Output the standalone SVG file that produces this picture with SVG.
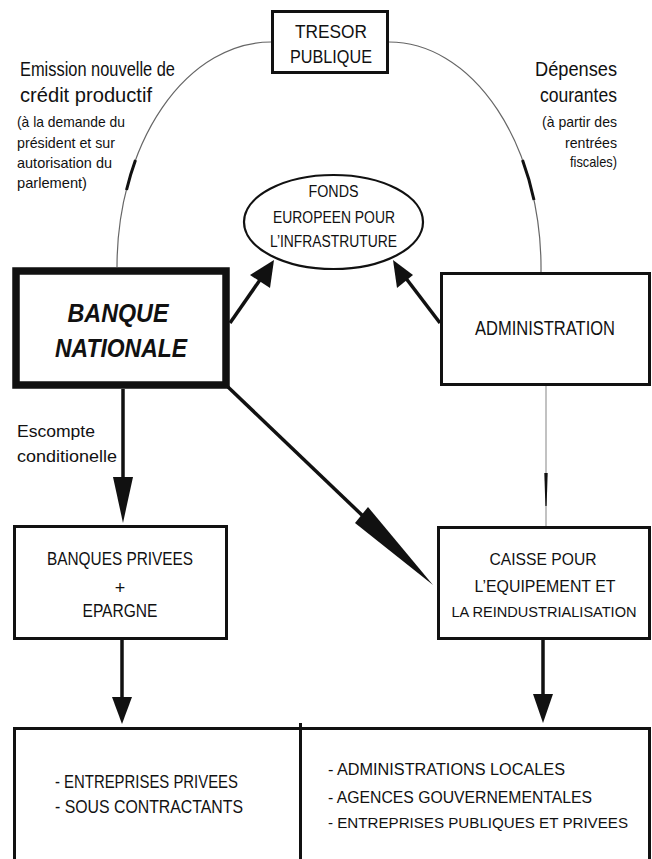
<svg xmlns="http://www.w3.org/2000/svg" width="652" height="859" viewBox="0 0 652 859">
<style>
text{font-family:"Liberation Sans",Arial,sans-serif;fill:#111;}
.box{fill:#fff;stroke:#111;stroke-width:3;}
.thick{fill:#fff;stroke:#111;stroke-width:7.5;}
.thin{fill:none;stroke:#666;stroke-width:1.2;}
.mark{fill:none;stroke:#111;stroke-width:3;}
.ln{fill:none;stroke:#111;stroke-width:3.5;}
.head{fill:#111;stroke:none;}
.c{text-anchor:middle;}
</style>
<rect width="652" height="859" fill="#fff"/>

<g id="connectors">
  <path class="thin" d="M271,42 A154,225 0 0 0 117,267"/>
  <path class="mark" d="M135.5,160 A154,225 0 0 0 126.5,190"/>
  <path class="thin" d="M389,42 A152,226 0 0 1 541,272"/>
  <path class="mark" d="M522.5,160 A152,226 0 0 1 534,200"/>
  <line x1="546" y1="386" x2="546" y2="526" stroke="#999" stroke-width="1.2"/>
  <polygon class="head" points="544.3,473 547.7,473 546.6,506 545.4,506"/>
  <line class="ln" x1="230" y1="323" x2="262" y2="277"/>
  <polygon class="head" points="274,260 250,275 270,288"/>
  <line class="ln" x1="440" y1="323" x2="405" y2="277"/>
  <polygon class="head" points="393,260 413,275 397,288"/>
  <line class="ln" x1="228" y1="387" x2="365" y2="518" stroke-width="3"/>
  <polygon class="head" points="433,585 355,523 368,507"/>
  <line class="ln" x1="123" y1="389" x2="123" y2="480" stroke-width="4"/>
  <polygon class="head" points="113,477 133,477 123,523"/>
  <line class="ln" x1="122" y1="640" x2="122" y2="700" stroke-width="4"/>
  <polygon class="head" points="112,697 132,697 122,724"/>
  <line class="ln" x1="543" y1="640" x2="543" y2="697" stroke-width="4"/>
  <polygon class="head" points="533,694 553,694 543,723"/>
</g>

<g id="tresor">
  <rect class="box" x="272.5" y="11.5" width="115" height="61"/>
  <text class="c" x="331" y="38" font-size="18" textLength="72" lengthAdjust="spacingAndGlyphs">TRESOR</text>
  <text class="c" x="331" y="63" font-size="18" textLength="82" lengthAdjust="spacingAndGlyphs">PUBLIQUE</text>
</g>

<g id="label-emission">
  <text x="20" y="76" font-size="20" textLength="155" lengthAdjust="spacingAndGlyphs">Emission nouvelle de</text>
  <text x="20" y="102" font-size="20" textLength="132" lengthAdjust="spacingAndGlyphs">crédit productif</text>
  <text x="17" y="127" font-size="15" textLength="108" lengthAdjust="spacingAndGlyphs">(à la demande du</text>
  <text x="17" y="148" font-size="15" textLength="98" lengthAdjust="spacingAndGlyphs">président et sur</text>
  <text x="17" y="168" font-size="15" textLength="95" lengthAdjust="spacingAndGlyphs">autorisation du</text>
  <text x="17" y="188" font-size="15" textLength="70" lengthAdjust="spacingAndGlyphs">parlement)</text>
</g>

<g id="label-depenses">
  <text x="535" y="76" font-size="20" textLength="82" lengthAdjust="spacingAndGlyphs">Dépenses</text>
  <text x="540" y="102" font-size="20" textLength="77" lengthAdjust="spacingAndGlyphs">courantes</text>
  <text x="542" y="127" font-size="15" textLength="75" lengthAdjust="spacingAndGlyphs">(à partir des</text>
  <text x="565" y="148" font-size="15" textLength="52" lengthAdjust="spacingAndGlyphs">rentrées</text>
  <text x="570" y="167" font-size="15" textLength="47" lengthAdjust="spacingAndGlyphs">fiscales)</text>
</g>

<g id="fonds">
  <ellipse cx="333.5" cy="222" rx="89.5" ry="47" fill="#fff" stroke="#111" stroke-width="2.2"/>
  <text class="c" x="333.5" y="197" font-size="16" textLength="50" lengthAdjust="spacingAndGlyphs">FONDS</text>
  <text class="c" x="334" y="223" font-size="16" textLength="122" lengthAdjust="spacingAndGlyphs">EUROPEEN POUR</text>
  <text class="c" x="333.5" y="247" font-size="16" textLength="127" lengthAdjust="spacingAndGlyphs">L’INFRASTRUTURE</text>
</g>

<g id="banque-nationale">
  <rect class="thick" x="16" y="271" width="210" height="114"/>
  <text class="c" x="118" y="322" font-size="26" font-weight="bold" font-style="italic" textLength="101" lengthAdjust="spacingAndGlyphs">BANQUE</text>
  <text class="c" x="121" y="357" font-size="26" font-weight="bold" font-style="italic" textLength="132" lengthAdjust="spacingAndGlyphs">NATIONALE</text>
</g>

<g id="administration">
  <rect class="box" x="441.5" y="273.5" width="208" height="111"/>
  <text class="c" x="545" y="335" font-size="20" textLength="140" lengthAdjust="spacingAndGlyphs">ADMINISTRATION</text>
</g>

<g id="label-escompte">
  <text x="17" y="437" font-size="17" textLength="78" lengthAdjust="spacingAndGlyphs">Escompte</text>
  <text x="17" y="462" font-size="17" textLength="100" lengthAdjust="spacingAndGlyphs">conditionelle</text>
</g>

<g id="banques-privees">
  <rect class="box" x="14.5" y="526.5" width="212" height="112"/>
  <text class="c" x="120" y="565" font-size="18" textLength="146" lengthAdjust="spacingAndGlyphs">BANQUES PRIVEES</text>
  <text class="c" x="120" y="594" font-size="18">+</text>
  <text class="c" x="120" y="617" font-size="18" textLength="75" lengthAdjust="spacingAndGlyphs">EPARGNE</text>
</g>

<g id="caisse">
  <rect class="box" x="438.5" y="527.5" width="211" height="111"/>
  <text class="c" x="543" y="565" font-size="16.5" textLength="107" lengthAdjust="spacingAndGlyphs">CAISSE POUR</text>
  <text class="c" x="545" y="592" font-size="16.5" textLength="141" lengthAdjust="spacingAndGlyphs">L’EQUIPEMENT ET</text>
  <text class="c" x="544" y="617" font-size="15.5" textLength="185" lengthAdjust="spacingAndGlyphs">LA REINDUSTRIALISATION</text>
</g>

<g id="beneficiaires">
  <path d="M14.5,870 V728.5 H649.5 V870" fill="none" stroke="#111" stroke-width="3"/>
  <line x1="300.5" y1="723" x2="300.5" y2="870" stroke="#111" stroke-width="3"/>
</g>

<g id="entreprises-privees">
  <text x="55" y="788" font-size="18" textLength="183" lengthAdjust="spacingAndGlyphs">- ENTREPRISES PRIVEES</text>
  <text x="55" y="813" font-size="18" textLength="188" lengthAdjust="spacingAndGlyphs">- SOUS CONTRACTANTS</text>
</g>

<g id="secteur-public">
  <text x="328" y="775" font-size="16" textLength="237" lengthAdjust="spacingAndGlyphs">- ADMINISTRATIONS LOCALES</text>
  <text x="328" y="803" font-size="16" textLength="264" lengthAdjust="spacingAndGlyphs">- AGENCES GOUVERNEMENTALES</text>
  <text x="328" y="828" font-size="15.5" textLength="300" lengthAdjust="spacingAndGlyphs">- ENTREPRISES PUBLIQUES ET PRIVEES</text>
</g>
</svg>
